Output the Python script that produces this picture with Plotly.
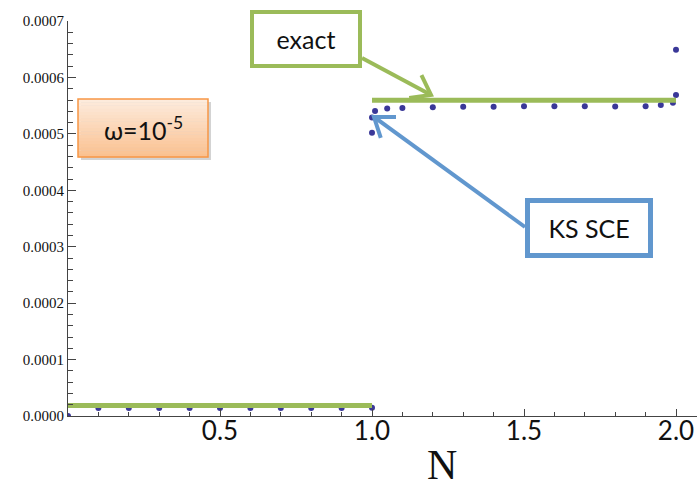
import math
import plotly.graph_objects as go

# ---- data ----
low_N = [0.0, 0.1, 0.2, 0.3, 0.4, 0.5, 0.6, 0.7, 0.8, 0.9, 1.0]
low_E = [0.0, 1.4e-5, 1.4e-5, 1.4e-5, 1.4e-5, 1.4e-5, 1.4e-5, 1.4e-5, 1.4e-5, 1.4e-5, 1.45e-5]

high_N = [1.0, 1.0, 1.01, 1.05, 1.1, 1.2, 1.3, 1.4, 1.5, 1.6, 1.7, 1.8, 1.9, 1.95, 1.99, 2.0, 2.0]
high_E = [5.02e-4, 5.29e-4, 5.405e-4, 5.45e-4, 5.46e-4, 5.47e-4, 5.48e-4, 5.48e-4, 5.49e-4,
          5.49e-4, 5.49e-4, 5.485e-4, 5.49e-4, 5.51e-4, 5.55e-4, 5.69e-4, 6.49e-4]

exact_low_N = [0.0, 1.0]
exact_low_E = [1.86e-5, 1.86e-5]
exact_high_N = [1.0, 2.0]
exact_high_E = [5.595e-4, 5.595e-4]

x_tickvals = [0.5, 1.0, 1.5, 2.0]
x_ticktext = ["0.5", "1.0", "1.5", "2.0"]

GREEN = "rgb(155,187,89)"
BLUE = "rgb(97,151,206)"
ORANGE = "rgb(247,150,70)"
DOT = "rgb(58,56,152)"

fig = go.Figure()
fig.add_trace(go.Scatter(x=low_N, y=low_E, mode="markers",
                         marker=dict(color=DOT, size=6), showlegend=False))
fig.add_trace(go.Scatter(x=high_N, y=high_E, mode="markers",
                         marker=dict(color=DOT, size=6), showlegend=False))
fig.add_trace(go.Scatter(x=exact_low_N, y=exact_low_E, mode="lines",
                         line=dict(color=GREEN, width=5), showlegend=False))
fig.add_trace(go.Scatter(x=exact_high_N, y=exact_high_E, mode="lines",
                         line=dict(color=GREEN, width=5), showlegend=False))

W, H = 697, 482
ML, MR, MT, MB = 68, 0, 21, 66
PW, PH = W - ML - MR, H - MT - MB


def px(xp):
    return (xp - ML) / PW


def py(yp):
    return (H - MB - yp) / PH


shapes = []
# omega box: shadow, gradient, border
bx0, bx1, by0, by1 = 78, 208, 99, 157
shapes.append(dict(type="rect", xref="paper", yref="paper",
                   x0=px(bx0 + 3), x1=px(bx1 + 3), y0=py(by1 + 3), y1=py(by0 + 3),
                   fillcolor="rgba(110,110,110,0.30)", line=dict(width=0), layer="above"))
nb = 18
c_top = (253, 236, 222)
c_bot = (250, 192, 143)
for i in range(nb):
    t = (i + 0.5) / nb
    c = tuple(int(round(c_top[k] + (c_bot[k] - c_top[k]) * t)) for k in range(3))
    ya = by0 + (by1 - by0) * i / nb
    yb = by0 + (by1 - by0) * (i + 1) / nb
    shapes.append(dict(type="rect", xref="paper", yref="paper",
                       x0=px(bx0), x1=px(bx1), y0=py(yb + 0.3), y1=py(ya),
                       fillcolor="rgb(%d,%d,%d)" % c, line=dict(width=0), layer="above"))
shapes.append(dict(type="rect", xref="paper", yref="paper",
                   x0=px(bx0), x1=px(bx1), y0=py(by1), y1=py(by0),
                   line=dict(color=ORANGE, width=1.5), layer="above"))


def arrow(tail, tip, color, arm=22, ang=36):
    """Open-chevron arrow drawn in paper coordinates from pixel positions."""
    dx, dy = tip[0] - tail[0], tip[1] - tail[1]
    L = math.hypot(dx, dy)
    ux, uy = dx / L, dy / L
    out = [dict(type="line", xref="paper", yref="paper",
                x0=px(tail[0]), y0=py(tail[1]), x1=px(tip[0] - ux * 2), y1=py(tip[1] - uy * 2),
                line=dict(color=color, width=4), layer="above")]
    pts = []
    for s in (1, -1):
        a = math.radians(ang * s)
        bx = -ux * math.cos(a) + uy * math.sin(a)
        by = -uy * math.cos(a) - ux * math.sin(a)
        pts.append((tip[0] + arm * bx, tip[1] + arm * by))
    path = "M %f,%f L %f,%f L %f,%f" % (px(pts[0][0]), py(pts[0][1]), px(tip[0]), py(tip[1]),
                                        px(pts[1][0]), py(pts[1][1]))
    out.append(dict(type="path", xref="paper", yref="paper", path=path,
                    line=dict(color=color, width=4), layer="above"))
    return out


shapes += arrow((362, 58), (431, 95), GREEN)
shapes += arrow((525, 227), (374, 117), BLUE)

annotations = [
    dict(text="ω=10<sup>-5</sup>", xref="paper", yref="paper",
         x=px((bx0 + bx1) / 2), y=py((by0 + by1) / 2), xanchor="center", yanchor="middle",
         showarrow=False, font=dict(family="Lato", size=25, color="#111")),
    dict(text="exact", xref="paper", yref="paper", x=px(306), y=py(39),
         xanchor="center", yanchor="middle", showarrow=False,
         width=100, height=46, bgcolor="white", bordercolor=GREEN, borderwidth=4,
         borderpad=2, font=dict(family="Lato", size=25, color="#111")),
    dict(text="KS SCE", xref="paper", yref="paper", x=px(589), y=py(228),
         xanchor="center", yanchor="middle", showarrow=False,
         width=116, height=48, bgcolor="white", bordercolor=BLUE, borderwidth=5,
         borderpad=1, font=dict(family="Lato", size=25, color="#111")),
    dict(text="N", xref="paper", yref="paper", x=px(442), y=py(465),
         xanchor="center", yanchor="middle", showarrow=False,
         font=dict(family="Liberation Serif", size=42, color="#111")),
]

fig.update_layout(
    width=W, height=H, autosize=False,
    margin=dict(l=ML, r=MR, t=MT, b=MB, pad=0, autoexpand=False),
    plot_bgcolor="white", paper_bgcolor="white",
    shapes=shapes, annotations=annotations,
    xaxis=dict(range=[0, PW / 304.0], tickmode="array", tickvals=x_tickvals, ticktext=x_ticktext,
               automargin=False, ticklabelstandoff=-8,
               ticks="inside", ticklen=7, tickcolor="#444", showline=True, linecolor="#444",
               linewidth=1, showgrid=False, zeroline=False,
               tickfont=dict(family="Lato", size=26, color="#111"),
               minor=dict(dtick=0.1, tick0=0, ticks="inside", ticklen=4, tickcolor="#444",
                          showgrid=False)),
    yaxis=dict(range=[0, 0.0007], dtick=0.0001, tick0=0, tickformat=".4f",
               automargin=False,
               ticks="inside", ticklen=8, tickcolor="#444", showline=True, linecolor="#444",
               linewidth=1, showgrid=False, zeroline=False,
               tickfont=dict(family="Liberation Serif", size=15, color="#111"),
               minor=dict(dtick=0.00002, tick0=0, ticks="inside", ticklen=4.5, tickcolor="#444",
                          showgrid=False)),
)

fig.write_html("out.html", config={"displayModeBar": False},
               post_script="document.body.style.margin='0';document.body.style.padding='0';")
